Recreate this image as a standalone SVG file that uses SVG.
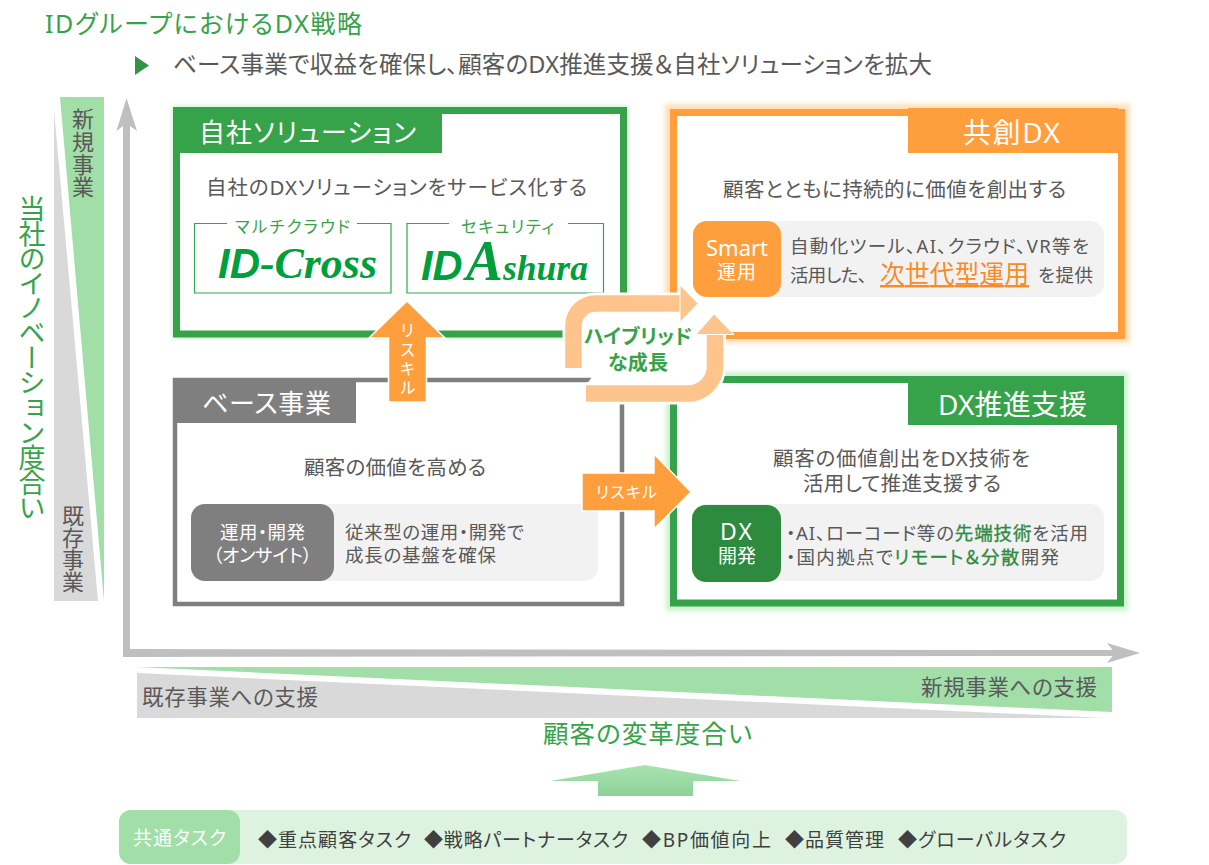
<svg xmlns="http://www.w3.org/2000/svg" width="1209" height="865" viewBox="0 0 1209 865">
<defs>
<style>
text{font-family:"Noto Sans","Noto Sans CJK JP",sans-serif;fill:#595959;font-feature-settings:"palt"}
.g{fill:#36a34a}.w{fill:#fff}.dk{fill:#404040}.lt{fill:#2d8a3e;stroke:#2d8a3e;stroke-width:.3}
.v{writing-mode:vertical-rl}
.logo{fill:#009f3c;font-family:"Liberation Serif",serif;font-weight:700;font-style:italic}
.sans{font-family:"Liberation Sans",sans-serif}
.box{fill:#fff;stroke-width:7}
.pill{fill:#f2f2f2}
.thin{fill:none;stroke:#2fa84f;stroke-width:1.200}
.loop{fill:none;stroke:#ffc48c;stroke-width:16.500}
.halo{fill:none;stroke:#fff;stroke-width:22}
</style>
<filter id="gl" x="-5%" y="-5%" width="110%" height="110%"><feGaussianBlur stdDeviation="2.500"/></filter>
<linearGradient id="upg" x1="0" y1="0" x2="0" y2="1"><stop offset="0" stop-color="#a8e4b0"/><stop offset="1" stop-color="#8dd09a"/></linearGradient>
</defs>
<rect width="1209" height="865" fill="#fff"/>
<g id="title">
<text x="45" y="33" font-size="25" class="g" textLength="317">IDグループにおけるDX戦略</text>
<polygon points="135,56 149,65.500 135,75" fill="#339443"/>
<text x="173" y="73" font-size="23.500" textLength="759">ベース事業で収益を確保し、顧客のDX推進支援＆自社ソリューションを拡大</text>
</g>
<g id="y-axis-bands">
<polygon points="60,97 104,97 104,601" fill="#a1dea8"/>
<polygon points="54,110 54,601 98,601" fill="#d9d9d9"/>
<text class="v" font-size="22" x="82" y="108" textLength="90">新規事業</text>
<text class="v" font-size="22" x="72" y="505" textLength="88">既存事業</text>
<text class="v g" font-size="27" x="31" y="195" textLength="326">当社のイノベーション度合い</text>
</g>
<g id="axes" fill="#bfbfbf">
<path d="M123,125H130V649L1118,650V656L123,657Z"/>
<polygon points="126.500,98 137,131 130,126 123,126 116.500,131"/>
<polygon points="1140,653 1107,643 1115,653 1107,663"/>
</g>
<g id="x-axis-bands">
<polygon points="137,667 1112,667 1112,712" fill="#a1dea8"/>
<polygon points="137,673 137,718 1105,718" fill="#d9d9d9"/>
<text font-size="21.500" x="142" y="705" textLength="176">既存事業への支援</text>
<text font-size="21.500" x="921" y="695" textLength="176">新規事業への支援</text>
<text class="g" font-size="25.500" x="543" y="743" textLength="209">顧客の変革度合い</text>
</g>
<g id="node-jisha">
<rect x="172" y="106" width="456" height="232" fill="#c9f2cd" filter="url(#gl)"/>
<rect class="box" x="176.500" y="110.500" width="447" height="223.500" stroke="#36a34a"/>
<rect x="173" y="107" width="269" height="46" fill="#36a34a"/>
<text class="w" x="199" y="142" font-size="26" textLength="217">自社ソリューション</text>
<text x="206" y="195" font-size="20.500" textLength="381">自社のDXソリューションをサービス化する</text>
<path class="thin" d="M227,223.500H194.500V293H391V223.500H357"/>
<path class="thin" d="M449,223.500H407V293H603.500V223.500H568"/>
<text x="235" y="233" font-size="16.500" class="g" textLength="115">マルチクラウド</text>
<text x="461" y="233" font-size="16.500" class="g" textLength="93">セキュリティ</text>
<text class="logo" x="218" y="278" font-size="44" textLength="159" lengthAdjust="spacingAndGlyphs"><tspan class="sans" font-size="42">ID</tspan>-Cross</text>
<text class="logo" x="421" y="280" font-size="36" textLength="167" lengthAdjust="spacingAndGlyphs"><tspan class="sans" font-size="42">ID</tspan><tspan font-size="14"> </tspan><tspan font-size="56">A</tspan>shura</text>
</g>
<g id="node-kyoso">
<rect x="665" y="104" width="465" height="239" fill="#ffdfb5" filter="url(#gl)"/>
<rect class="box" x="673.500" y="112.500" width="448" height="223" stroke="#ff9e3d"/>
<rect x="908" y="108" width="210" height="45" fill="#ff9e3d"/>
<text class="w" x="963" y="143" font-size="28" textLength="97">共創DX</text>
<text x="723" y="197" font-size="20.500" textLength="343">顧客とともに持続的に価値を創出する</text>
<rect class="pill" x="693" y="221" width="411" height="76" rx="14"/>
<rect x="693" y="221" width="88" height="76" rx="14" fill="#ff9e3d"/>
<text class="w" x="706" y="256" font-size="22" textLength="62">Smart</text>
<text class="w" x="717" y="279" font-size="19" textLength="39">運用</text>
<text x="790" y="253" font-size="18.500" textLength="299">自動化ツール、AI、クラウド、VR等を</text>
<text x="790" y="282" font-size="18.500" textLength="77">活用した、</text>
<text x="880" y="283" font-size="24.500" text-decoration="underline" style="fill:#f98a25" textLength="149">次世代型運用</text>
<text x="1038" y="282" font-size="18.500" textLength="55">を提供</text>
</g>
<g id="node-base">
<rect class="box" x="175" y="380" width="447" height="224" stroke="#7f7f7f" style="stroke-width:4.500"/>
<rect x="173" y="378" width="183" height="45" fill="#7f7f7f"/>
<text class="w" x="202" y="413" font-size="26" textLength="129">ベース事業</text>
<text x="304" y="475" font-size="20.500" textLength="182">顧客の価値を高める</text>
<rect class="pill" x="191" y="504" width="407" height="77" rx="14"/>
<rect x="191" y="504" width="143" height="77" rx="14" fill="#7f7f7f"/>
<text class="w" x="220" y="539" font-size="18.500" textLength="85">運用・開発</text>
<text class="w" x="213" y="562" font-size="18.500" textLength="99">（オンサイト）</text>
<text x="345" y="539" font-size="18.500" textLength="179">従来型の運用・開発で</text>
<text x="345" y="562" font-size="18.500" textLength="151">成長の基盤を確保</text>
</g>
<g id="node-dx">
<rect x="666" y="372" width="462" height="239" fill="#c9f2cd" filter="url(#gl)"/>
<rect class="box" x="673.500" y="379.500" width="447" height="223.500" stroke="#36a34a"/>
<rect x="908" y="378" width="216" height="47" fill="#36a34a"/>
<text class="w" x="938" y="415" font-size="28" textLength="149">DX推進支援</text>
<text x="773" y="466" font-size="20.500" textLength="257">顧客の価値創出をDX技術を</text>
<text x="803" y="491" font-size="20.500" textLength="198">活用して推進支援する</text>
<rect class="pill" x="692" y="504" width="412" height="77" rx="14"/>
<rect x="692" y="505" width="89" height="77" rx="14" fill="#2d8a3e"/>
<text class="w" x="720" y="540" font-size="23" textLength="32">DX</text>
<text class="w" x="718" y="563" font-size="19" textLength="38">開発</text>
<text x="786" y="540" font-size="18.500" textLength="302">・AI、ローコード等の<tspan class="lt">先端技術</tspan>を活用</text>
<text x="786" y="564" font-size="18.500" textLength="273">・国内拠点で<tspan class="lt">リモート＆分散</tspan>開発</text>
</g>
<g id="connectors">
<polygon points="582,312 707,312 707,385 586,385 592,377 582,377" fill="#fff"/>
<polygon points="388.500,402 388.500,338 369,338 407,301 445,338 426.500,338 426.500,402" fill="#ff9e3d" stroke="#fff" stroke-width="1.500"/>
<polygon points="582,473 654,473 654,454 691,492 654,529 654,511 582,511" fill="#ff9e3d" stroke="#fff" stroke-width="1.500"/>
<path class="halo" d="M573.500,368V325A22,22 0 0 1 595.500,303.500H681"/>
<path class="halo" d="M586,393.500H688A27,27 0 0 0 715,366.500V334"/>
<path class="loop" d="M573.500,368V325A22,22 0 0 1 595.500,303.500H681"/>
<polygon points="680,285 698,303.500 680,322" fill="#ffc48c" stroke="#fff" stroke-width="1"/>
<path class="loop" d="M586,393.500H688A27,27 0 0 0 715,366.500V334"/>
<polygon points="696,334.500 714,314 734,334.500" fill="#ffc48c" stroke="#fff" stroke-width="1"/>
<polygon points="550,781 645,765 740,781 693,781 693,796 598,796 598,781" fill="url(#upg)"/>
</g>
<g id="labels">
<text x="584" y="344" font-size="20" font-weight="700" class="g" textLength="108">ハイブリッド</text>
<text x="608" y="370" font-size="20" font-weight="700" class="g" textLength="60">な成長</text>
<text class="v w" x="407" y="322" font-size="16.500" textLength="74">リスキル</text>
<text class="w" x="596" y="498" font-size="16" textLength="61">リスキル</text>
</g>
<g id="node-tasks">
<rect x="119" y="810" width="1008" height="54" rx="12" fill="#ddf3e0"/>
<rect x="119" y="810" width="121" height="54" rx="12" fill="#a1dea8"/>
<text class="w" x="133" y="845" font-size="19" textLength="93">共通タスク</text>
<text class="dk" x="258" y="847" font-size="19" textLength="153">◆重点顧客タスク</text>
<text class="dk" x="424" y="847" font-size="19" textLength="204">◆戦略パートナータスク</text>
<text class="dk" x="642" y="847" font-size="19" textLength="129">◆BP価値向上</text>
<text class="dk" x="785" y="847" font-size="19" textLength="99">◆品質管理</text>
<text class="dk" x="898" y="847" font-size="19" textLength="168">◆グローバルタスク</text>
</g>
</svg>
